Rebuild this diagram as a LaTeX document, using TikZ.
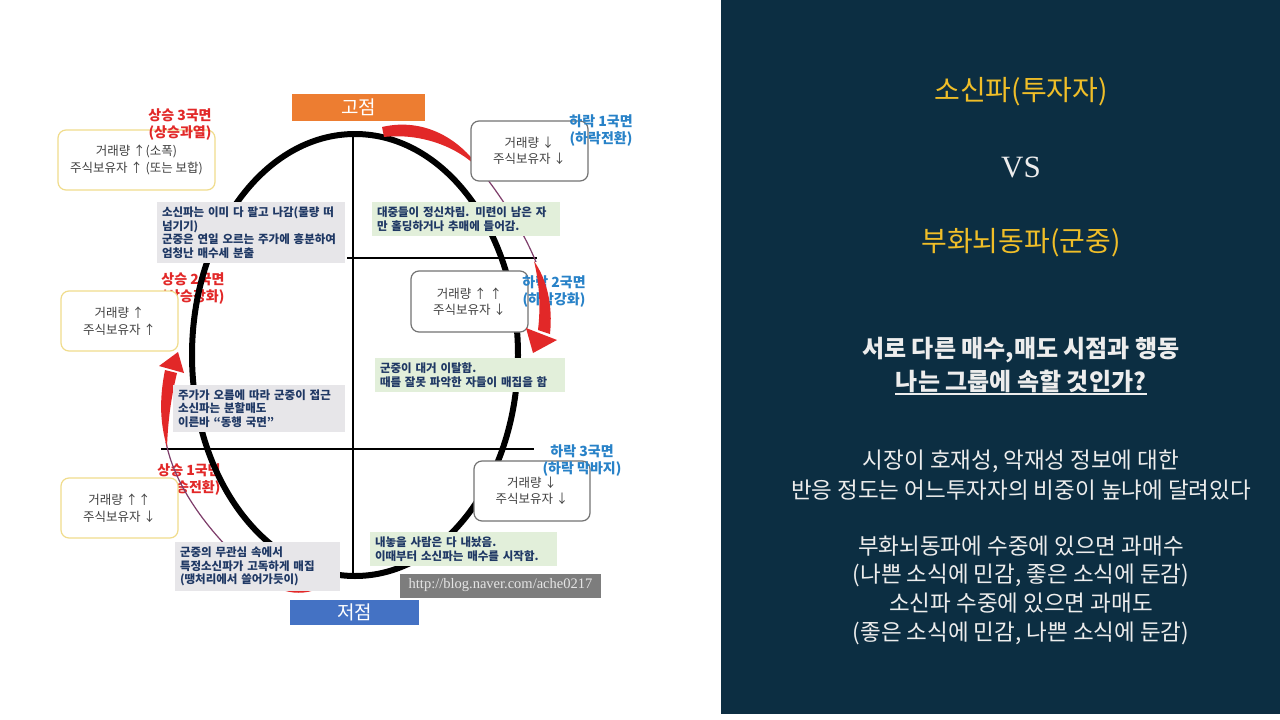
\documentclass[tikz,border=0pt]{standalone}
\usepackage{fontspec}
\setmainfont{Noto Sans CJK KR}
\newfontfamily\latinserif{Liberation Serif}
\usetikzlibrary{arrows.meta}

\definecolor{panelblue}{RGB}{12,46,66}
\definecolor{titlegold}{RGB}{240,190,40}
\definecolor{risered}{RGB}{226,40,40}
\definecolor{fallblue}{RGB}{40,130,200}
\definecolor{notenavy}{RGB}{31,56,100}
\definecolor{notegray}{RGB}{231,230,233}
\definecolor{notegreen}{RGB}{226,239,218}
\definecolor{peakorange}{RGB}{237,125,49}
\definecolor{troughblue}{RGB}{68,114,196}
\definecolor{boxyellow}{RGB}{240,220,140}
\definecolor{trailred}{RGB}{125,60,105}
\definecolor{urlgray}{RGB}{125,125,125}

\tikzset{
  phasebox/.style={rounded corners=8pt, fill=white, line width=1.2pt,
    minimum height=60pt, align=center, text=black!75,
    font=\fontsize{12.5}{16.5}\selectfont},
  risebox/.style={phasebox, draw=boxyellow},
  fallbox/.style={phasebox, draw=black!55},
  notebox/.style={inner sep=5pt, align=left, text=notenavy,
    font=\bfseries\fontsize{11.5}{13.5}\selectfont},
  riselabel/.style={text=risered, align=center,
    font=\bfseries\fontsize{14}{17}\selectfont},
  falllabel/.style={text=fallblue, align=center,
    font=\bfseries\fontsize{14}{17}\selectfont},
  extremebox/.style={text=white, minimum height=27pt,
    font=\fontsize{19}{21}\selectfont},
  goldtitle/.style={text=titlegold, font=\fontsize{28}{32}\selectfont},
  panelhead/.style={text=white!93!black, inner sep=0pt,
    font=\bfseries\fontsize{24}{28}\selectfont},
  paneltext/.style={text=white!93!black, align=center}
}

\begin{document}
\begin{tikzpicture}[x=1pt,y=-1pt,line width=1pt]
\useasboundingbox (0,0) rectangle (1280,720);
\fill[white] (0,0) rectangle (1280,720);
% right panel
\fill[panelblue] (721,0) rectangle (1280,714);

% labels crossed by the cycle
\node[riselabel] (up2lab) at (193,289) {상승 2국면\\(상승강화)};
\node[riselabel] (up1lab) at (189,480) {상승 1국면\\(상승전환)};

% market cycle
\draw[line width=6pt] (355,355) ellipse (163pt and 221pt);
% quadrant lines
\draw[line width=1.3pt] (353,135) -- (353,574);
\draw[line width=1.3pt] (347,258) -- (537,258);
\draw[line width=1.3pt] (161,449) -- (534,449);

% falling trail (top right)
\fill[risered] (382,127) .. controls (425,117) and (462,140) .. (482,172)
  .. controls (458,145) and (418,133) .. (384,137) -- cycle;
\draw[trailred, line width=1.2pt] (481,171) .. controls (500,195) and (522,228) .. (536,262);
% rising trail (bottom left)
\fill[risered] (332,578) .. controls (316,597) and (284,599) .. (258,576)
  .. controls (285,590) and (312,589) .. (330,574) -- cycle;
\draw[trailred, line width=1.2pt] (258,576) .. controls (215,540) and (175,490) .. (166,442);
\fill[risered] (167,447) .. controls (159,420) and (160,395) .. (165,370)
  -- (177,373) .. controls (171,398) and (168,420) .. (167,447) -- cycle;
\fill[risered] (159,366) -- (184,373) -- (178,352) -- cycle;

% peak and trough
\node[extremebox, fill=peakorange, minimum width=133pt] (peak) at (358.5,107.5) {고점};
\node[extremebox, fill=troughblue, minimum width=129pt, minimum height=25pt] (trough) at (354.5,612.5) {저점};

% rising phase boxes
\node[risebox, minimum width=157pt] (up3box) at (136.5,160) {거래량 ↑(소폭)\\주식보유자 ↑ (또는 보합)};
\node[risebox, minimum width=117pt] (up2box) at (119.5,321) {거래량 ↑\\주식보유자 ↑};
\node[risebox, minimum width=117pt] (up1box) at (119.5,508) {거래량 ↑↑\\주식보유자 ↓};

% falling phase boxes
\node[fallbox, minimum width=117pt] (down1box) at (529.5,151) {거래량 ↓\\주식보유자 ↓};
\node[fallbox, minimum width=117pt, minimum height=61pt] (down2box) at (469.5,301.5) {거래량 ↑ ↑\\주식보유자 ↓};
\node[fallbox, minimum width=116pt] (down3box) at (532,491) {거래량 ↓\\주식보유자 ↓};

% crowd notes
\node[notebox, fill=notegray, text width=178pt, minimum height=59pt] (note3) at (251,232.5)
  {소신파는 이미 다 팔고 나감(물량 떠\\넘기기)\\군중은 연일 오르는 주가에 흥분하여\\엄청난 매수세 분출};
\node[notebox, fill=notegray, text width=162pt, minimum height=47pt] (note2) at (259,408.5)
  {주가가 오름에 따라 군중이 접근\\소신파는 분할매도\\이른바 “동행 국면”};
\node[notebox, fill=notegray, text width=155pt, minimum height=47pt] (note1) at (257.5,566.5)
  {군중의 무관심 속에서\\특정소신파가 고독하게 매집\\(땡처리에서 쓸어가듯이)};
\node[notebox, fill=notegreen, text width=178pt, minimum height=32pt] (note4) at (466,219)
  {대중들이 정신차림. 미련이 남은 자\\만 홀딩하거나 추매에 들어감.};
\node[notebox, fill=notegreen, text width=180pt, minimum height=34pt] (note5) at (470,375)
  {군중이 대거 이탈함.\\때를 잘못 파악한 자들이 매집을 함};
\node[notebox, fill=notegreen, text width=177pt, minimum height=32pt] (note6) at (463.5,549)
  {내놓을 사람은 다 내놨음.\\이때부터 소신파는 매수를 시작함.};
\node[fill=urlgray, text=white!90!black, minimum width=201pt, minimum height=24pt,
  font=\latinserif\fontsize{14.5}{16}\selectfont] (source) at (500.5,585.5) {http://blog.naver.com/ache0217};

% phase labels
\node[riselabel] (up3lab) at (180,125) {상승 3국면\\(상승과열)};
\node[falllabel] (down1lab) at (601,131) {하락 1국면\\(하락전환)};
\node[falllabel] (down2lab) at (554,292) {하락 2국면\\(하락강화)};
\node[falllabel] (down3lab) at (582,461) {하락 3국면\\(하락 막바지)};

% falling arrow (right)
\fill[risered] (534,261) .. controls (547,280) and (553,305) .. (550,334)
  -- (538,330) .. controls (541,305) and (539,282) .. (534,261) -- cycle;
\fill[risered] (526,328) -- (557,340) -- (533,353) -- cycle;

% investor comparison
\node[goldtitle] (sosin) at (1021,92) {소신파(투자자)};
\node[text=white!93!black, font=\latinserif\fontsize{31}{34}\selectfont] (vs) at (1021,167) {VS};
\node[goldtitle] (crowd) at (1021,243) {부화뇌동파(군중)};
\node[panelhead] (head1) at (1021,350) {서로 다른 매수,매도 시점과 행동};
\node[panelhead] (head2) at (1021,381) {나는 그룹에 속할 것인가?};
\draw[white!93!black, line width=1.2pt] ([yshift=-4pt]head2.base west) -- ([yshift=-4pt]head2.base east);
\node[paneltext, font=\fontsize{22.5}{30}\selectfont] (market) at (1021,475)
  {시장이 호재성, 악재성 정보에 대한\\반응 정도는 어느투자자의 비중이 높냐에 달려있다};
\node[paneltext, font=\fontsize{22.5}{28.7}\selectfont] (excess) at (1021,590)
  {부화뇌동파에 수중에 있으면 과매수\\(나쁜 소식에 민감, 좋은 소식에 둔감)\\소신파 수중에 있으면 과매도\\(좋은 소식에 민감, 나쁜 소식에 둔감)};
\end{tikzpicture}
\end{document}
